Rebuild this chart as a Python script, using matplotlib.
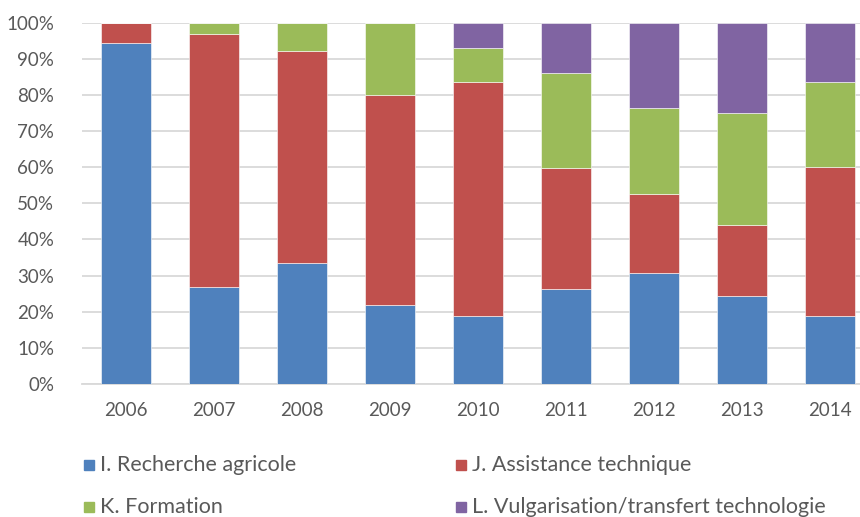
import matplotlib
matplotlib.use("Agg")
import matplotlib.pyplot as plt
from matplotlib.patches import Rectangle
from matplotlib.ticker import PercentFormatter
import numpy as np

years = ["2006", "2007", "2008", "2009", "2010", "2011", "2012", "2013", "2014"]
series_names = ["I. Recherche agricole", "J. Assistance technique",
                "K. Formation", "L. Vulgarisation/transfert technologie"]
recherche = [94.3, 26.8, 33.4, 22.0, 18.7, 26.4, 30.6, 24.4, 18.9]
assistance = [5.7, 70.2, 58.9, 57.9, 65.0, 33.5, 22.0, 19.6, 41.1]
formation = [0.0, 3.0, 7.7, 20.1, 9.4, 26.3, 23.9, 31.1, 23.6]
vulgarisation = [0.0, 0.0, 0.0, 0.0, 6.9, 13.8, 23.5, 24.9, 16.4]
colors = ["#4F81BD", "#C0504D", "#9BBB59", "#8064A2"]

plt.rcParams['font.family'] = ['Lato', 'DejaVu Sans']
TXT = "#595959"

fig = plt.figure(figsize=(8.6, 5.17), dpi=100)
ax = fig.add_axes([82/860, 133/517, 792/860, 361.3/517])

x = np.arange(len(years))
bottom = np.zeros(len(years))
for vals, col, name in zip([recherche, assistance, formation, vulgarisation], colors, series_names):
    v = np.array(vals)
    ax.bar(x, v, 0.57, bottom=bottom, color=col, edgecolor='white', linewidth=0.4, label=name, zorder=3)
    bottom += v

ax.set_xlim(-0.5, len(years) - 0.5)
ax.set_ylim(0, 100)
ax.set_yticks(np.arange(0, 101, 10))
ax.yaxis.set_major_formatter(PercentFormatter(decimals=0))
ax.set_xticks(x)
ax.set_xticklabels(years)
ax.grid(axis='y', color='#d9d9d9', linewidth=1.3, zorder=0)
for s in ['top', 'right', 'left']:
    ax.spines[s].set_visible(False)
ax.spines['bottom'].set_color('#d9d9d9')
ax.spines['bottom'].set_linewidth(1.3)
ax.tick_params(axis='both', length=0, colors=TXT, labelsize=13.5)
ax.tick_params(axis='y', pad=20)
ax.tick_params(axis='x', pad=13)

# legend (manual layout: 2 rows x 2 columns)
pos = [(84, 465), (456, 465), (84, 507), (456, 507)]
for (px, py), col, name in zip(pos, colors, series_names):
    fig.patches.append(Rectangle((px/860, (517-py-5)/517), 10/860, 10/517,
                                 transform=fig.transFigure, color=col))
    fig.text((px+16)/860, (517-py)/517, name, color=TXT, fontsize=15.5,
             va='center', ha='left')

fig.savefig("out.png", dpi=100)
